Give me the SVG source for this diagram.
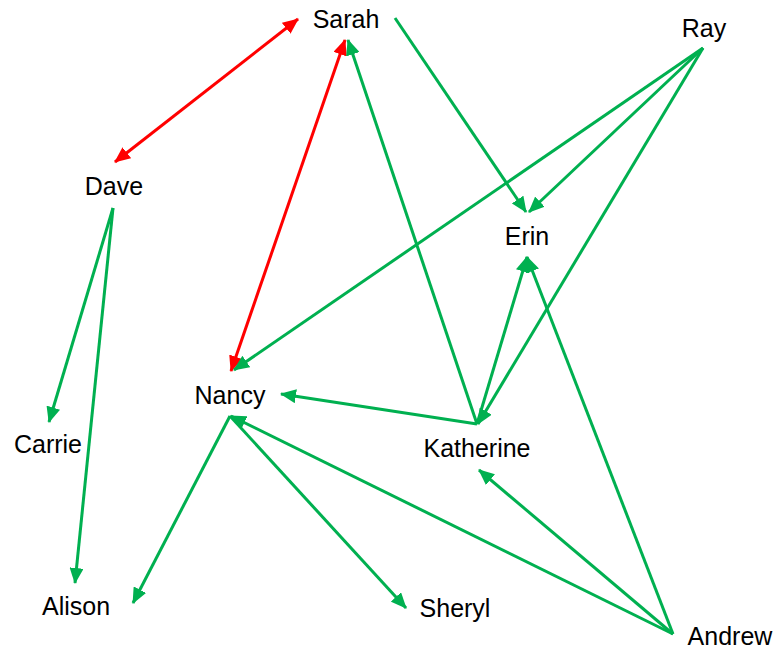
<svg xmlns="http://www.w3.org/2000/svg" width="777" height="650" viewBox="0 0 777 650">
<style>
  .lbl { font-family: "Liberation Sans", Arial, sans-serif; font-size: 25px; fill: #000; text-anchor: middle; }
  .g { stroke: #00B050; stroke-width: 3; fill: none; marker-end: url(#ag); }
  .r { stroke: #FF0000; stroke-width: 3; fill: none; marker-start: url(#ar); marker-end: url(#ar); }
</style>
<defs>
  <marker id="ag" markerUnits="userSpaceOnUse" markerWidth="16" markerHeight="14" viewBox="0 0 16 14" refX="15" refY="7" orient="auto">
    <path d="M0,0 L16,7 L0,14 z" fill="#00B050"/>
  </marker>
  <marker id="ar" markerUnits="userSpaceOnUse" markerWidth="16" markerHeight="14" viewBox="0 0 16 14" refX="15" refY="7" orient="auto-start-reverse">
    <path d="M0,0 L16,7 L0,14 z" fill="#FF0000"/>
  </marker>
</defs>
<rect width="777" height="650" fill="#fff"/>
<g id="connectors">
  <line class="r" x1="115" y1="162" x2="298" y2="19"/>
  <line class="r" x1="231" y1="371" x2="345" y2="40"/>
  <line class="g" x1="395" y1="18" x2="526" y2="212"/>
  <line class="g" x1="703" y1="48" x2="529" y2="212"/>
  <line class="g" x1="703" y1="48" x2="234" y2="370"/>
  <line class="g" x1="703" y1="48" x2="478" y2="424"/>
  <line class="g" x1="113" y1="208" x2="49" y2="422"/>
  <line class="g" x1="113" y1="208" x2="75" y2="583"/>
  <line class="g" x1="477" y1="424" x2="348" y2="40"/>
  <line class="g" x1="477" y1="424" x2="527" y2="257"/>
  <line class="g" x1="477" y1="424" x2="281" y2="394"/>
  <line class="g" x1="230" y1="416" x2="133" y2="603"/>
  <line class="g" x1="230" y1="416" x2="406" y2="608"/>
  <line class="g" x1="673" y1="634" x2="231" y2="416"/>
  <line class="g" x1="673" y1="634" x2="479" y2="470"/>
  <line class="g" x1="673" y1="634" x2="527" y2="257"/>
</g>
<g id="sarah"><text class="lbl" x="346" y="28">Sarah</text></g>
<g id="ray"><text class="lbl" x="704" y="37">Ray</text></g>
<g id="dave"><text class="lbl" x="114" y="195">Dave</text></g>
<g id="erin"><text class="lbl" x="527" y="245">Erin</text></g>
<g id="nancy"><text class="lbl" x="230" y="404">Nancy</text></g>
<g id="carrie"><text class="lbl" x="48" y="453">Carrie</text></g>
<g id="katherine"><text class="lbl" x="477" y="457">Katherine</text></g>
<g id="alison"><text class="lbl" x="76" y="615">Alison</text></g>
<g id="sheryl"><text class="lbl" x="455" y="617">Sheryl</text></g>
<g id="andrew"><text class="lbl" x="730" y="645">Andrew</text></g>
</svg>
